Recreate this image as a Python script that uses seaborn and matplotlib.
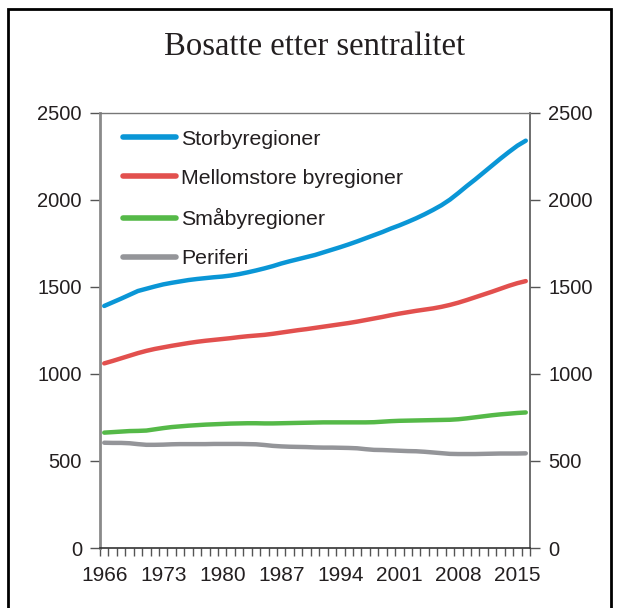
import numpy as np
import pandas as pd
import matplotlib
matplotlib.use("Agg")
import matplotlib.pyplot as plt
from matplotlib.patches import Rectangle
from matplotlib.ticker import FixedLocator, NullFormatter
import seaborn as sns

years = list(range(1966, 2017))
storby = [1391, 1412, 1433, 1455, 1477, 1490, 1503, 1515, 1524, 1532,
          1540, 1546, 1551, 1556, 1560, 1566, 1574, 1584, 1595, 1607,
          1620, 1635, 1648, 1660, 1672, 1684, 1699, 1714, 1729, 1745,
          1762, 1780, 1798, 1816, 1836, 1854, 1874, 1895, 1918, 1943,
          1970, 2002, 2040, 2080, 2118, 2158, 2198, 2238, 2276, 2312, 2341]
mellom = [1061, 1075, 1090, 1105, 1120, 1133, 1144, 1153, 1162, 1170,
          1178, 1185, 1191, 1196, 1201, 1206, 1212, 1217, 1221, 1225,
          1231, 1238, 1245, 1252, 1258, 1265, 1272, 1279, 1286, 1293,
          1301, 1310, 1319, 1328, 1338, 1347, 1355, 1363, 1370, 1377,
          1386, 1397, 1410, 1425, 1441, 1457, 1473, 1490, 1507, 1522, 1534]
smaaby = [663, 666, 669, 672, 673, 675, 682, 689, 695, 699,
          703, 706, 709, 711, 713, 715, 716, 717, 717, 716,
          716, 717, 718, 719, 720, 721, 722, 722, 722, 722,
          722, 722, 723, 726, 729, 731, 732, 733, 734, 735,
          736, 737, 740, 745, 751, 757, 763, 768, 772, 776, 779]
periferi = [605, 604, 604, 602, 597, 593, 593, 594, 596, 597,
            597, 597, 597, 598, 598, 598, 598, 597, 596, 592,
            587, 584, 582, 581, 580, 578, 577, 577, 576, 575,
            573, 568, 564, 563, 561, 559, 557, 556, 553, 549,
            545, 541, 540, 540, 540, 541, 542, 543, 543, 543, 544]

series_names = ["Storbyregioner", "Mellomstore byregioner", "Småbyregioner", "Periferi"]
series_values = [storby, mellom, smaaby, periferi]
colors = ["#0A96D6", "#E2504E", "#55B948", "#949599"]
title = "Bosatte etter sentralitet"
y_ticks = [0, 500, 1000, 1500, 2000, 2500]
x_label_years = [1966, 1973, 1980, 1987, 1994, 2001, 2008, 2015]

df = pd.concat([pd.DataFrame({"År": years, "Bosatte": v, "Region": n})
                for n, v in zip(series_names, series_values)], ignore_index=True)

sns.set_style("white")
plt.rcParams["font.family"] = ["Liberation Sans", "DejaVu Sans"]

W, H = 619, 608
fig = plt.figure(figsize=(W / 100, H / 100), dpi=100)
ax = fig.add_axes([100 / W, 1 - 548 / H, 430 / W, 435 / H])

sns.lineplot(data=df, x="År", y="Bosatte", hue="Region", hue_order=series_names,
             palette=colors, linewidth=3.2, ax=ax, legend=True)

ax.set_xlim(1965.5, 2016.5)
ax.set_ylim(0, 2500)
ax.set_xlabel("")
ax.set_ylabel("")

tick_col = "#231F20"
ax.set_yticks(y_ticks)
ax.set_yticklabels([str(t) for t in y_ticks])
ax.tick_params(axis="y", which="major", direction="out", length=7, width=1.0,
               color="#555555", labelsize=14.5, labelcolor=tick_col, pad=6,
               left=True, right=True, labelleft=True, labelright=True)

ax.set_xticks(x_label_years)
ax.set_xticklabels([str(t) for t in x_label_years])
ax.xaxis.set_minor_locator(FixedLocator([y - 0.5 for y in years] + [years[-1] + 0.5]))
ax.xaxis.set_minor_formatter(NullFormatter())
ax.tick_params(axis="x", which="major", length=0, labelsize=15,
               labelcolor=tick_col, pad=13)
ax.tick_params(axis="x", which="minor", direction="out", length=6, width=1.0,
               color="#555555", bottom=True)

for side in ["left", "right", "top", "bottom"]:
    ax.spines[side].set_visible(True)
ax.spines["left"].set_color("#8A8A8A")
ax.spines["left"].set_linewidth(2.0)
ax.spines["right"].set_color("#555555")
ax.spines["right"].set_linewidth(1.2)
ax.spines["top"].set_color("#777777")
ax.spines["top"].set_linewidth(1.0)
ax.spines["bottom"].set_color("#333333")
ax.spines["bottom"].set_linewidth(1.2)

handles, labels = ax.get_legend_handles_labels()
for h in handles:
    h.set_linewidth(4)
ax.legend(handles, labels, loc="upper left", bbox_to_anchor=(0.054, 0.962),
          frameon=False, fontsize=15.3, handlelength=2.5, handletextpad=0.24,
          labelspacing=0.95, borderpad=0, borderaxespad=0,
          labelcolor=tick_col)

fig.text(315 / W, 1 - 47 / H, title, ha="center", va="center",
         fontsize=23.5, family=["Liberation Serif", "DejaVu Serif"], color=tick_col)

frame = Rectangle((8 / W, -0.05), (611 - 8) / W, (1 - 9 / H) + 0.05,
                  transform=fig.transFigure, fill=False, edgecolor="black",
                  linewidth=2.0, clip_on=False)
fig.patches.append(frame)

fig.savefig("out.png", dpi=100)
